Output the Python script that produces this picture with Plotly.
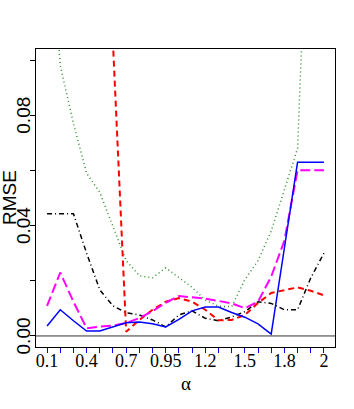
import plotly.graph_objects as go

# alpha grid (x categories) and the labels shown on the axis
alpha = ["0.1", "0.2", "0.3", "0.4", "0.5", "0.6", "0.7", "0.8", "0.9", "0.95",
         "1", "1.1", "1.2", "1.3", "1.4", "1.5", "1.6", "1.7", "1.8", "1.9", "1.95", "2"]
shown = ["0.1", "0.4", "0.7", "0.95", "1.2", "1.5", "1.8", "2"]

# y ticks and the ones that get a label
y_ticks = [0, 0.02, 0.04, 0.06, 0.08, 0.10]
y_labels = {0: "0.00", 0.04: "0.04", 0.08: "0.08"}

# RMSE per method
rmse_blue = [0.0036, 0.0095, 0.0055, 0.0018, 0.0018, 0.0033, 0.0048, 0.0051, 0.0044, 0.0033, 0.0060,
             0.0091, 0.0105, 0.0105, 0.0085, 0.0068, 0.0044, 0.0007, 0.0320, 0.0630, 0.0630, 0.0630]
rmse_red = [0.25, 0.22, 0.19, 0.16, 0.13, 0.106, 0.0015, 0.0058, 0.0095, 0.0124, 0.0137,
            0.0124, 0.0095, 0.0057, 0.0058, 0.0076, 0.0119, 0.0156, 0.0167, 0.0176, 0.0164, 0.0147]
rmse_green = [0.16, 0.098, 0.077, 0.059, 0.052, 0.040, 0.0273, 0.0218, 0.0211, 0.0247, 0.0211,
              0.0176, 0.0130, 0.0108, 0.0106, 0.0204, 0.0273, 0.0380, 0.0530, 0.0680, 0.19, 0.21]
rmse_black = [0.0443, 0.0443, 0.0443, 0.0300, 0.0167, 0.0109, 0.0084, 0.0076, 0.0058, 0.0033, 0.0076,
              0.0091, 0.0064, 0.0055, 0.0069, 0.0088, 0.0124, 0.0118, 0.0095, 0.0095, 0.0210, 0.0300]
rmse_magenta = [0.0109, 0.0230, 0.0124, 0.0028, 0.0034, 0.0038, 0.0047, 0.0065, 0.0090, 0.0120, 0.0145,
                0.0140, 0.0135, 0.0127, 0.0118, 0.0101, 0.0124, 0.0215, 0.0345, 0.0601, 0.0601, 0.0601]

fig = go.Figure()
fig.add_trace(go.Scatter(x=alpha, y=rmse_green, mode="lines",
                         line=dict(color="#2a8f2a", width=1.5, dash="1px,3px")))
fig.add_trace(go.Scatter(x=alpha, y=rmse_black, mode="lines",
                         line=dict(color="black", width=1.5, dash="5px,3px,1px,3px")))
fig.add_trace(go.Scatter(x=alpha, y=rmse_red, mode="lines",
                         line=dict(color="#ff0000", width=2, dash="6px,4px")))
fig.add_trace(go.Scatter(x=alpha, y=rmse_magenta, mode="lines",
                         line=dict(color="#ff00ff", width=2, dash="10px,4px")))
fig.add_trace(go.Scatter(x=alpha, y=rmse_blue, mode="lines",
                         line=dict(color="#0000ff", width=1.5)))

# reference line at zero
fig.add_shape(type="line", xref="paper", x0=0, x1=1, yref="y", y0=0, y1=0,
              line=dict(color="#333333", width=1))

# rotated y tick labels, like R's default las=0
annots = [dict(text=t, textangle=-90, xref="paper", yref="y", x=0, y=v,
               xanchor="center", yanchor="middle", xshift=-12.5, showarrow=False,
               font=dict(size=19))
          for v, t in y_labels.items()]
annots.append(dict(text="RMSE", textangle=-90, xref="paper", yref="paper", x=0, y=0.5,
                   xanchor="center", yanchor="middle", xshift=-27, showarrow=False,
                   font=dict(size=19)))
annots.append(dict(text="α", xref="paper", yref="paper", x=0.5, y=0,
                   xanchor="center", yanchor="middle", yshift=-36, showarrow=False,
                   font=dict(family="Liberation Sans Narrow", size=19)))

fig.update_layout(
    width=354, height=409, autosize=False,
    margin=dict(l=36, r=19, t=49, b=62),
    paper_bgcolor="white", plot_bgcolor="white",
    showlegend=False,
    font=dict(family="Liberation Sans", color="black"),
    xaxis=dict(type="category", range=[-0.84, 21.84], automargin=False,
               tickvals=alpha, ticktext=[a if a in shown else "" for a in alpha],
               ticks="outside", ticklen=5, tickcolor="#0000ff", tickwidth=1,
               ticklabelstandoff=-8,
               tickfont=dict(family="Liberation Sans Narrow", size=18),
               showline=True, mirror=True, linecolor="black", linewidth=1.2,
               showgrid=False, zeroline=False),
    yaxis=dict(range=[-0.004, 0.104], automargin=False,
               tickvals=y_ticks, showticklabels=False,
               ticks="outside", ticklen=5, tickcolor="black", tickwidth=1,
               showline=True, mirror=True, linecolor="black", linewidth=1.2,
               showgrid=False, zeroline=False),
    annotations=annots,
)

# drop the page's default 8px body margin so the figure sits at the window corner
fig.write_html("out.html", config={"displayModeBar": False},
               post_script="document.body.style.margin='0';")
